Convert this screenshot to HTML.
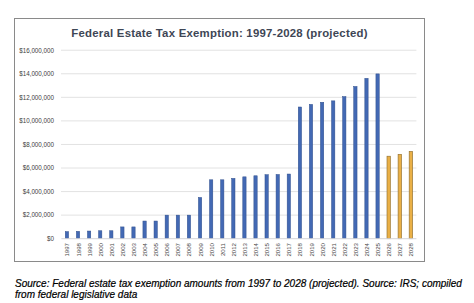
<!DOCTYPE html>
<html><head><meta charset="utf-8"><style>
html,body{margin:0;padding:0;background:#fff;}
body{width:474px;height:303px;position:relative;overflow:hidden;font-family:"Liberation Sans",sans-serif;}
#frame{position:absolute;left:14px;top:18px;width:409px;height:242px;border:1.2px solid #8A8A8A;}
#title{position:absolute;left:71.3px;top:26.8px;font-weight:bold;font-size:11.4px;letter-spacing:0.23px;color:#3E4655;white-space:nowrap;}
svg{position:absolute;left:0;top:0;}
.yl{font-size:6.5px;fill:#404040;font-family:"Liberation Sans",sans-serif;}
.xl{font-size:6.1px;fill:#4a4a4a;font-family:"Liberation Sans",sans-serif;}
#src{position:absolute;left:15px;top:278.3px;font-style:italic;font-size:10px;line-height:11px;color:#000;white-space:nowrap;-webkit-text-stroke:0.2px #000;}
</style></head><body>
<div id="frame"></div>
<div id="title">Federal Estate Tax Exemption: 1997-2028 (projected)</div>
<svg width="474" height="303" viewBox="0 0 474 303">
<line x1="61" y1="215.14" x2="416.41" y2="215.14" stroke="#E2E2E2" stroke-width="1"/>
<line x1="61" y1="191.58" x2="416.41" y2="191.58" stroke="#E2E2E2" stroke-width="1"/>
<line x1="61" y1="168.02" x2="416.41" y2="168.02" stroke="#E2E2E2" stroke-width="1"/>
<line x1="61" y1="144.46" x2="416.41" y2="144.46" stroke="#E2E2E2" stroke-width="1"/>
<line x1="61" y1="120.90" x2="416.41" y2="120.90" stroke="#E2E2E2" stroke-width="1"/>
<line x1="61" y1="97.34" x2="416.41" y2="97.34" stroke="#E2E2E2" stroke-width="1"/>
<line x1="61" y1="73.78" x2="416.41" y2="73.78" stroke="#E2E2E2" stroke-width="1"/>
<line x1="61" y1="50.22" x2="416.41" y2="50.22" stroke="#E2E2E2" stroke-width="1"/>
<rect x="65.27" y="231.63" width="3.3" height="7.07" fill="#4369B4" stroke="#2E4E8C" stroke-width="0.5"/>
<rect x="76.36" y="231.34" width="3.3" height="7.36" fill="#4369B4" stroke="#2E4E8C" stroke-width="0.5"/>
<rect x="87.46" y="231.04" width="3.3" height="7.66" fill="#4369B4" stroke="#2E4E8C" stroke-width="0.5"/>
<rect x="98.55" y="230.75" width="3.3" height="7.95" fill="#4369B4" stroke="#2E4E8C" stroke-width="0.5"/>
<rect x="109.65" y="230.75" width="3.3" height="7.95" fill="#4369B4" stroke="#2E4E8C" stroke-width="0.5"/>
<rect x="120.74" y="226.92" width="3.3" height="11.78" fill="#4369B4" stroke="#2E4E8C" stroke-width="0.5"/>
<rect x="131.84" y="226.92" width="3.3" height="11.78" fill="#4369B4" stroke="#2E4E8C" stroke-width="0.5"/>
<rect x="142.93" y="221.03" width="3.3" height="17.67" fill="#4369B4" stroke="#2E4E8C" stroke-width="0.5"/>
<rect x="154.03" y="221.03" width="3.3" height="17.67" fill="#4369B4" stroke="#2E4E8C" stroke-width="0.5"/>
<rect x="165.12" y="215.14" width="3.3" height="23.56" fill="#4369B4" stroke="#2E4E8C" stroke-width="0.5"/>
<rect x="176.22" y="215.14" width="3.3" height="23.56" fill="#4369B4" stroke="#2E4E8C" stroke-width="0.5"/>
<rect x="187.31" y="215.14" width="3.3" height="23.56" fill="#4369B4" stroke="#2E4E8C" stroke-width="0.5"/>
<rect x="198.41" y="197.47" width="3.3" height="41.23" fill="#4369B4" stroke="#2E4E8C" stroke-width="0.5"/>
<rect x="209.50" y="179.80" width="3.3" height="58.90" fill="#4369B4" stroke="#2E4E8C" stroke-width="0.5"/>
<rect x="220.60" y="179.80" width="3.3" height="58.90" fill="#4369B4" stroke="#2E4E8C" stroke-width="0.5"/>
<rect x="231.69" y="178.39" width="3.3" height="60.31" fill="#4369B4" stroke="#2E4E8C" stroke-width="0.5"/>
<rect x="242.79" y="176.85" width="3.3" height="61.84" fill="#4369B4" stroke="#2E4E8C" stroke-width="0.5"/>
<rect x="253.88" y="175.79" width="3.3" height="62.91" fill="#4369B4" stroke="#2E4E8C" stroke-width="0.5"/>
<rect x="264.98" y="174.73" width="3.3" height="63.97" fill="#4369B4" stroke="#2E4E8C" stroke-width="0.5"/>
<rect x="276.07" y="174.50" width="3.3" height="64.20" fill="#4369B4" stroke="#2E4E8C" stroke-width="0.5"/>
<rect x="287.17" y="174.03" width="3.3" height="64.67" fill="#4369B4" stroke="#2E4E8C" stroke-width="0.5"/>
<rect x="298.26" y="107.00" width="3.3" height="131.70" fill="#4369B4" stroke="#2E4E8C" stroke-width="0.5"/>
<rect x="309.36" y="104.41" width="3.3" height="134.29" fill="#4369B4" stroke="#2E4E8C" stroke-width="0.5"/>
<rect x="320.45" y="102.29" width="3.3" height="136.41" fill="#4369B4" stroke="#2E4E8C" stroke-width="0.5"/>
<rect x="331.55" y="100.87" width="3.3" height="137.83" fill="#4369B4" stroke="#2E4E8C" stroke-width="0.5"/>
<rect x="342.64" y="96.63" width="3.3" height="142.07" fill="#4369B4" stroke="#2E4E8C" stroke-width="0.5"/>
<rect x="353.74" y="86.50" width="3.3" height="152.20" fill="#4369B4" stroke="#2E4E8C" stroke-width="0.5"/>
<rect x="364.83" y="78.37" width="3.3" height="160.33" fill="#4369B4" stroke="#2E4E8C" stroke-width="0.5"/>
<rect x="375.93" y="73.90" width="3.3" height="164.80" fill="#4369B4" stroke="#2E4E8C" stroke-width="0.5"/>
<rect x="387.02" y="156.24" width="3.3" height="82.46" fill="#EAB046" stroke="#977330" stroke-width="0.7"/>
<rect x="398.12" y="154.47" width="3.3" height="84.23" fill="#EAB046" stroke="#977330" stroke-width="0.7"/>
<rect x="409.21" y="151.53" width="3.3" height="87.17" fill="#EAB046" stroke="#977330" stroke-width="0.7"/>
<line x1="61.37" y1="238.7" x2="416.41" y2="238.7" stroke="#D4D4D8" stroke-width="1"/>
<text transform="translate(53.9,241.00) scale(0.96,1)" text-anchor="end" class="yl">$0</text>
<text transform="translate(53.9,217.44) scale(0.96,1)" text-anchor="end" class="yl">$2,000,000</text>
<text transform="translate(53.9,193.88) scale(0.96,1)" text-anchor="end" class="yl">$4,000,000</text>
<text transform="translate(53.9,170.32) scale(0.96,1)" text-anchor="end" class="yl">$6,000,000</text>
<text transform="translate(53.9,146.76) scale(0.96,1)" text-anchor="end" class="yl">$8,000,000</text>
<text transform="translate(53.9,123.20) scale(0.96,1)" text-anchor="end" class="yl">$10,000,000</text>
<text transform="translate(53.9,99.64) scale(0.96,1)" text-anchor="end" class="yl">$12,000,000</text>
<text transform="translate(53.9,76.08) scale(0.96,1)" text-anchor="end" class="yl">$14,000,000</text>
<text transform="translate(53.9,52.52) scale(0.96,1)" text-anchor="end" class="yl">$16,000,000</text>
<text transform="translate(69.42,243.0) rotate(-90)" text-anchor="end" class="xl">1997</text>
<text transform="translate(80.51,243.0) rotate(-90)" text-anchor="end" class="xl">1998</text>
<text transform="translate(91.61,243.0) rotate(-90)" text-anchor="end" class="xl">1999</text>
<text transform="translate(102.70,243.0) rotate(-90)" text-anchor="end" class="xl">2000</text>
<text transform="translate(113.80,243.0) rotate(-90)" text-anchor="end" class="xl">2001</text>
<text transform="translate(124.89,243.0) rotate(-90)" text-anchor="end" class="xl">2002</text>
<text transform="translate(135.99,243.0) rotate(-90)" text-anchor="end" class="xl">2003</text>
<text transform="translate(147.08,243.0) rotate(-90)" text-anchor="end" class="xl">2004</text>
<text transform="translate(158.18,243.0) rotate(-90)" text-anchor="end" class="xl">2005</text>
<text transform="translate(169.27,243.0) rotate(-90)" text-anchor="end" class="xl">2006</text>
<text transform="translate(180.37,243.0) rotate(-90)" text-anchor="end" class="xl">2007</text>
<text transform="translate(191.46,243.0) rotate(-90)" text-anchor="end" class="xl">2008</text>
<text transform="translate(202.56,243.0) rotate(-90)" text-anchor="end" class="xl">2009</text>
<text transform="translate(213.65,243.0) rotate(-90)" text-anchor="end" class="xl">2010</text>
<text transform="translate(224.75,243.0) rotate(-90)" text-anchor="end" class="xl">2011</text>
<text transform="translate(235.84,243.0) rotate(-90)" text-anchor="end" class="xl">2012</text>
<text transform="translate(246.94,243.0) rotate(-90)" text-anchor="end" class="xl">2013</text>
<text transform="translate(258.03,243.0) rotate(-90)" text-anchor="end" class="xl">2014</text>
<text transform="translate(269.13,243.0) rotate(-90)" text-anchor="end" class="xl">2015</text>
<text transform="translate(280.22,243.0) rotate(-90)" text-anchor="end" class="xl">2016</text>
<text transform="translate(291.32,243.0) rotate(-90)" text-anchor="end" class="xl">2017</text>
<text transform="translate(302.41,243.0) rotate(-90)" text-anchor="end" class="xl">2018</text>
<text transform="translate(313.51,243.0) rotate(-90)" text-anchor="end" class="xl">2019</text>
<text transform="translate(324.60,243.0) rotate(-90)" text-anchor="end" class="xl">2020</text>
<text transform="translate(335.70,243.0) rotate(-90)" text-anchor="end" class="xl">2021</text>
<text transform="translate(346.79,243.0) rotate(-90)" text-anchor="end" class="xl">2022</text>
<text transform="translate(357.89,243.0) rotate(-90)" text-anchor="end" class="xl">2023</text>
<text transform="translate(368.98,243.0) rotate(-90)" text-anchor="end" class="xl">2024</text>
<text transform="translate(380.08,243.0) rotate(-90)" text-anchor="end" class="xl">2025</text>
<text transform="translate(391.17,243.0) rotate(-90)" text-anchor="end" class="xl">2026</text>
<text transform="translate(402.27,243.0) rotate(-90)" text-anchor="end" class="xl">2027</text>
<text transform="translate(413.36,243.0) rotate(-90)" text-anchor="end" class="xl">2028</text>
</svg>
<div id="src">Source: Federal estate tax exemption amounts from 1997 to 2028 (projected). Source: IRS; compiled<br>from federal legislative data</div>
</body></html>
